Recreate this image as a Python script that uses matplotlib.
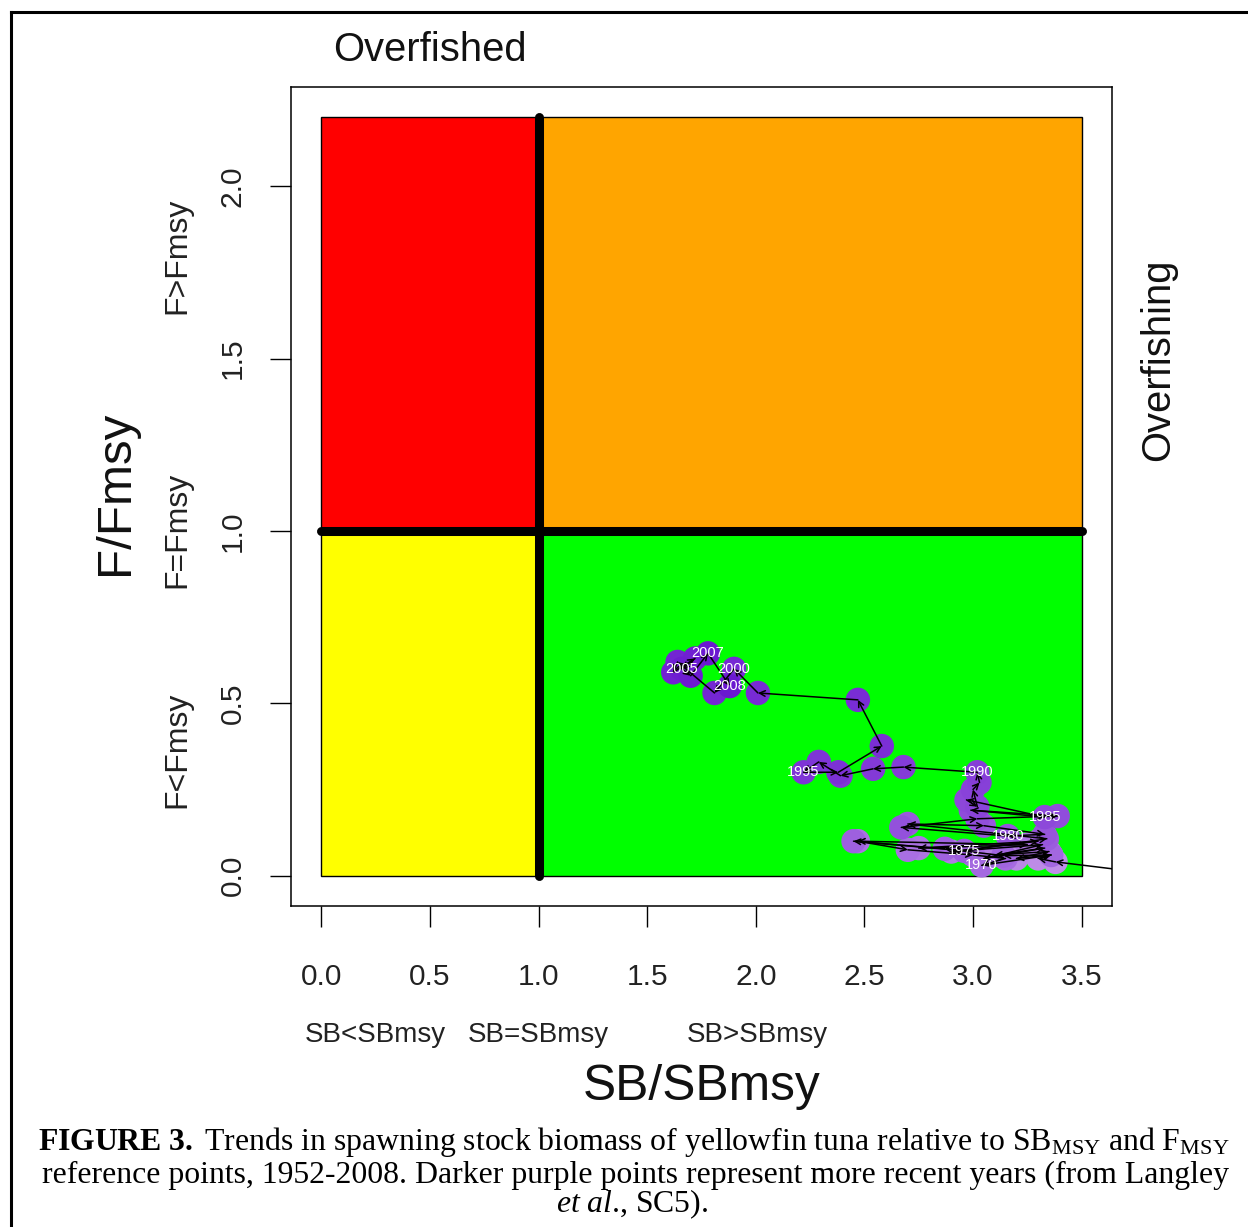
import matplotlib
matplotlib.use("Agg")
import matplotlib.pyplot as plt
import numpy as np
from matplotlib.colors import LinearSegmentedColormap
from matplotlib.lines import Line2D

plt.rcParams['font.family'] = ['Liberation Sans', 'DejaVu Sans']
plt.rcParams['mathtext.fontset'] = 'custom'
plt.rcParams['mathtext.rm'] = 'Liberation Serif'
plt.rcParams['mathtext.it'] = 'Liberation Serif:italic'
plt.rcParams['mathtext.bf'] = 'Liberation Serif:bold'

# ---------------- data ----------------
years = list(range(1952, 2009))
sb_ratio = [3.90, 3.38, 3.30, 3.36, 3.20, 3.35, 3.10, 3.33, 3.05, 3.32,
            2.90, 3.30, 2.75, 3.25, 2.47, 2.70, 3.00, 3.15, 3.04, 3.36,
            3.14, 2.87, 2.45, 2.96, 3.34, 2.70, 3.05, 3.33, 3.16, 2.67,
            3.02, 3.39, 2.99, 3.33, 2.97, 3.02, 3.00, 3.03, 3.02, 2.68,
            2.54, 2.39, 2.29, 2.22, 2.38, 2.58, 2.47, 2.01, 1.90, 1.81,
            1.64, 1.62, 1.72, 1.66, 1.70, 1.78, 1.88]
f_ratio = [0.00, 0.04, 0.05, 0.06, 0.05, 0.07, 0.06, 0.08, 0.05, 0.09,
           0.07, 0.10, 0.08, 0.09, 0.10, 0.075, 0.06, 0.05, 0.03, 0.06,
           0.058, 0.078, 0.10, 0.072, 0.107, 0.15, 0.145, 0.12, 0.115, 0.14,
           0.165, 0.173, 0.19, 0.17, 0.22, 0.20, 0.25, 0.27, 0.30, 0.315,
           0.31, 0.29, 0.33, 0.30, 0.30, 0.376, 0.51, 0.53, 0.60, 0.53,
           0.62, 0.59, 0.63, 0.60, 0.58, 0.645, 0.55]
label_years = [1970, 1975, 1980, 1985, 1990, 1995, 2000, 2005, 2007, 2008]

x_ticks = [0.0, 0.5, 1.0, 1.5, 2.0, 2.5, 3.0, 3.5]
y_ticks = [0.0, 0.5, 1.0, 1.5, 2.0]
sb_max, f_max = 3.5, 2.2
quadrants = [  # (x0, x1, y0, y1, colour)
    (0.0, 1.0, 1.0, 2.2, '#FF0000'),
    (1.0, 3.5, 1.0, 2.2, '#FFA500'),
    (0.0, 1.0, 0.0, 1.0, '#FFFF00'),
    (1.0, 3.5, 0.0, 1.0, '#00FF00'),
]

# ---------------- figure ----------------
W, H = 1248, 1227
fig = plt.figure(figsize=(W / 100, H / 100), dpi=100)
fig.patch.set_facecolor('white')

def fx(px):
    return px / W

def fy(py):
    return 1 - py / H

ax = fig.add_axes([fx(291), fy(906), fx(1112) - fx(291), fy(87) - fy(906)])
ax.set_xlim(-0.04 * sb_max, sb_max * 1.04)
ax.set_ylim(-0.04 * f_max, f_max * 1.04)

for x0, x1, y0, y1, c in quadrants:
    ax.fill([x0, x1, x1, x0], [y0, y0, y1, y1], facecolor=c,
            edgecolor='black', linewidth=1.0, zorder=1)

ax.plot([1, 1], [0, f_max], color='black', lw=6.5, solid_capstyle='round', zorder=2)
ax.plot([0, sb_max], [1, 1], color='black', lw=6.5, solid_capstyle='round', zorder=2)

# points
cmap = LinearSegmentedColormap.from_list('purp', ['#C08FE8', '#6A18D0'])
ax.scatter(sb_ratio, f_ratio, c=np.arange(len(years)), cmap=cmap, s=310,
           edgecolors='none', zorder=3)

# arrows between successive years
for i in range(1, len(years)):
    ann = ax.annotate('', xy=(sb_ratio[i], f_ratio[i]),
                      xytext=(sb_ratio[i - 1], f_ratio[i - 1]),
                      arrowprops=dict(arrowstyle='->', lw=1.1, color='black',
                                      mutation_scale=10, shrinkA=0, shrinkB=0),
                      zorder=4, annotation_clip=False)
    ann.arrow_patch.set_clip_path(ax.patch)

for yr in label_years:
    i = years.index(yr)
    ax.text(sb_ratio[i], f_ratio[i], str(yr), color='white', fontsize=10.5,
            ha='center', va='center', zorder=5)

ax.set_xticks(x_ticks)
ax.set_xticklabels([f'{v:.1f}' for v in x_ticks])
ax.set_yticks(y_ticks)
ax.set_yticklabels([f'{v:.1f}' for v in y_ticks], rotation=90, va='center')
ax.tick_params(axis='both', direction='out', length=15, width=1.0,
               labelsize=21.5, labelcolor='#222222')
ax.tick_params(axis='x', pad=26)
ax.tick_params(axis='y', pad=17)
for sp in ax.spines.values():
    sp.set_linewidth(1.1)

# ---------------- outer texts ----------------
fig.text(fx(430), fy(50), 'Overfished', fontsize=28.8, ha='center', va='center', color='#111111')
fig.text(fx(1158), fy(360), 'Overfishing', fontsize=28.8, ha='center', va='center',
         rotation=90, color='#111111')
fig.text(fx(115), fy(493), 'F/Fmsy', fontsize=35.6, ha='center', va='center',
         rotation=90, color='#111111')
fig.text(fx(702), fy(1087), 'SB/SBmsy', fontsize=35.8, ha='center', va='center', color='#111111')
for txt, yc in [('F<Fmsy', 750), ('F=Fmsy', 530), ('F>Fmsy', 256)]:
    fig.text(fx(177), fy(yc), txt, fontsize=23, ha='center', va='center',
             rotation=90, color='#222222')
for txt, xc in [('SB<SBmsy', 375), ('SB=SBmsy', 538), ('SB>SBmsy', 757)]:
    fig.text(fx(xc), fy(1035), txt, fontsize=20, ha='center', va='center', color='#222222')

# caption
cap_kw = dict(fontsize=22.9, ha='center', va='baseline', family='Liberation Serif', color='black')
fig.text(fx(634), fy(1150),
         r'$\mathbf{FIGURE\ 3.\ }$Trends in spawning stock biomass of yellowfin tuna relative to '
         r'SB$_{\mathrm{MSY}}$ and F$_{\mathrm{MSY}}$', **cap_kw)
fig.text(fx(635), fy(1183),
         'reference points, 1952-2008. Darker purple points represent more recent years (from Langley',
         **cap_kw)
fig.text(fx(632), fy(1212), r'$\mathit{et\ al}$., SC5).', **cap_kw)

# page frame (left and top edges)
fig.add_artist(Line2D([fx(11), fx(11)], [fy(12), 0], color='black', lw=2.2,
                      transform=fig.transFigure))
fig.add_artist(Line2D([fx(11), 1], [fy(12), fy(12)], color='black', lw=2.2,
                      transform=fig.transFigure))

fig.savefig('out.png', dpi=100, facecolor='white')
